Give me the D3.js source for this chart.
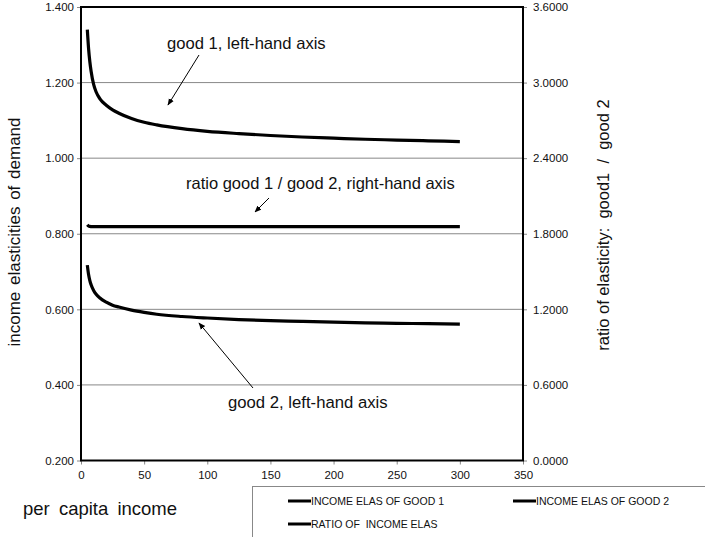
<!DOCTYPE html>
<html><head><meta charset="utf-8">
<script src="https://cdn.jsdelivr.net/npm/d3@7"></script>
<style>body{margin:0;background:#fff;font-family:"Liberation Sans",Arial,sans-serif;} text{white-space:pre;}</style>
</head><body><svg id="c" width="705" height="537"></svg>
<script>
const income = [5,6,7,8,10,12,15,20,25,30,40,50,60,80,100,125,150,175,200,225,250,275,300];
const good1 = [1.340,1.290,1.255,1.230,1.195,1.175,1.157,1.140,1.128,1.119,1.105,1.095,1.088,1.078,1.071,1.065,1.060,1.056,1.053,1.050,1.048,1.046,1.044];
const good2 = [0.717,0.692,0.676,0.665,0.650,0.640,0.630,0.619,0.611,0.606,0.598,0.592,0.587,0.581,0.577,0.573,0.570,0.568,0.566,0.564,0.563,0.562,0.561];
const ratio = [1.872,1.862,1.858,1.857,1.856,1.856,1.856,1.856,1.856,1.856,1.856,1.856,1.856,1.856,1.856,1.856,1.856,1.856,1.856,1.856,1.856,1.856,1.856];
const xTicks = [0,50,100,150,200,250,300,350];
const yLeftTicks = [0.2,0.4,0.6,0.8,1.0,1.2,1.4];
const yRightTicks = [0,0.6,1.2,1.8,2.4,3.0,3.6];
const legendLabels = ["INCOME ELAS OF GOOD 1","INCOME ELAS OF GOOD 2","RATIO OF  INCOME ELAS"];

const svg = d3.select("#c");
const L=81, R=523, T=7, B=460.5;
const x = d3.scaleLinear().domain([0,350]).range([L,R]);
const yL = d3.scaleLinear().domain([0.2,1.4]).range([B,T]);
const yR = d3.scaleLinear().domain([0,3.6]).range([B,T]);

// gridlines
svg.append("g").selectAll("line").data(yLeftTicks.slice(1,-1)).join("line")
  .attr("x1",L).attr("x2",R).attr("y1",d=>yL(d)).attr("y2",d=>yL(d))
  .attr("stroke","#888").attr("stroke-width",1);

// axes
const fmt3 = d3.format(".3f"), fmt4 = d3.format(".4f");
const gL = svg.append("g").attr("transform",`translate(${L},0)`)
  .call(d3.axisLeft(yL).tickValues(yLeftTicks).tickFormat(fmt3).tickSize(4).tickPadding(3));
const gR = svg.append("g").attr("transform",`translate(${R},0)`)
  .call(d3.axisRight(yR).tickValues(yRightTicks).tickFormat(fmt4).tickSize(4).tickPadding(6));
const gX = svg.append("g").attr("transform",`translate(0,${B})`)
  .call(d3.axisBottom(x).tickValues(xTicks).tickFormat(d3.format("d")).tickSize(4).tickPadding(6));
[gL,gR,gX].forEach(g=>{
  g.select(".domain").remove();
  g.selectAll(".tick line").attr("stroke","#888");
  g.selectAll(".tick text").attr("font-family","Liberation Sans, Arial, sans-serif").attr("font-size",11.5).attr("fill","#111");
});

// frame
svg.append("rect").attr("x",L).attr("y",T).attr("width",R-L).attr("height",B-T)
  .attr("fill","none").attr("stroke","#000").attr("stroke-width",2);

// lines
const lineL = d3.line().x((d,i)=>x(income[i])).y(d=>yL(d)).curve(d3.curveMonotoneX);
const lineR = d3.line().x((d,i)=>x(income[i])).y(d=>yR(d)).curve(d3.curveMonotoneX);
svg.append("path").attr("d",lineL(good1)).attr("fill","none").attr("stroke","#000").attr("stroke-width",3.2);
svg.append("path").attr("d",lineL(good2)).attr("fill","none").attr("stroke","#000").attr("stroke-width",3.2);
svg.append("path").attr("d",lineR(ratio)).attr("fill","none").attr("stroke","#000").attr("stroke-width",3.2);

// axis titles
svg.append("text").attr("transform","translate(20,232) rotate(-90)").attr("text-anchor","middle")
  .attr("font-size",17).attr("word-spacing",2).attr("fill","#111").text("income elasticities of demand");
svg.append("text").attr("transform","translate(609,225) rotate(-90)").attr("text-anchor","middle")
  .attr("font-size",16.5).attr("fill","#111").text("ratio of elasticity:  good1  /  good 2");
svg.append("text").attr("x",23).attr("y",515).attr("font-size",18.5).attr("word-spacing",4).attr("fill","#111").text("per capita income");

// annotations
const defs = svg.append("defs");
defs.append("marker").attr("id","ah").attr("viewBox","0 0 10 10").attr("refX",9).attr("refY",5)
  .attr("markerWidth",7).attr("markerHeight",7).attr("orient","auto")
  .append("path").attr("d","M0,1 L10,5 L0,9 Z").attr("fill","#000");
function arrow(x1,y1,x2,y2){
  svg.append("line").attr("x1",x1).attr("y1",y1).attr("x2",x2).attr("y2",y2)
    .attr("stroke","#000").attr("stroke-width",1).attr("marker-end","url(#ah)");
}
svg.append("text").attr("x",167).attr("y",49).attr("font-size",16.6).attr("fill","#111").text("good 1, left-hand axis");
arrow(199,55,168,105);
svg.append("text").attr("x",186).attr("y",189).attr("font-size",16.5).attr("fill","#111").text("ratio good 1 / good 2, right-hand axis");
arrow(269,198,255,212);
svg.append("text").attr("x",228).attr("y",408).attr("font-size",16.7).attr("fill","#111").text("good 2, left-hand axis");
arrow(253,388,199,323);

// legend
svg.append("rect").attr("x",252.5).attr("y",486.5).attr("width",460).attr("height",60)
  .attr("fill","#fff").attr("stroke","#888").attr("stroke-width",1);
const legPos = [[288,501],[513,501],[288,524]];
legendLabels.forEach((t,i)=>{
  const [lx,ly]=legPos[i];
  svg.append("line").attr("x1",lx).attr("x2",lx+23).attr("y1",ly).attr("y2",ly).attr("stroke","#000").attr("stroke-width",3);
  svg.append("text").attr("x",lx+23).attr("y",ly+4).attr("font-size",10.5).attr("fill","#111").text(t);
});
</script></body></html>
